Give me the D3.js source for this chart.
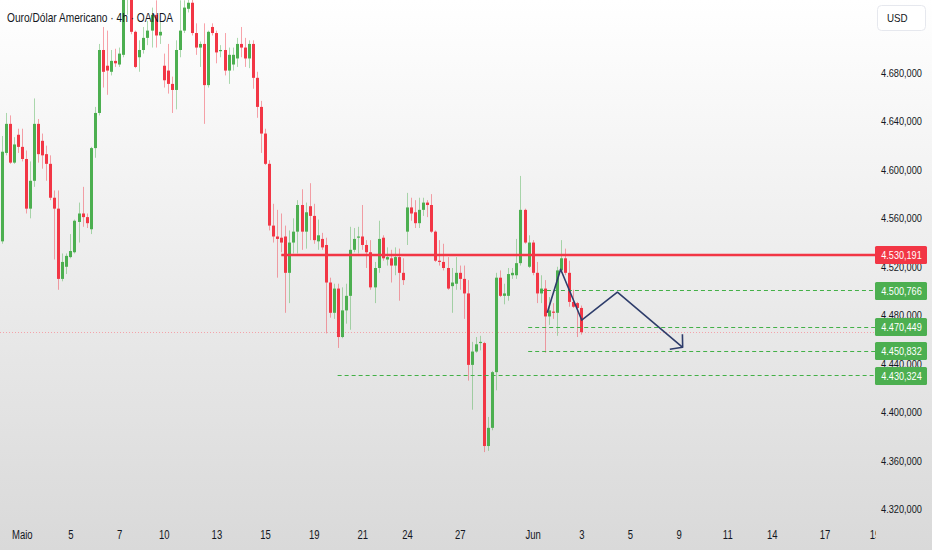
<!DOCTYPE html>
<html>
<head>
<meta charset="utf-8">
<script src="https://cdn.jsdelivr.net/npm/d3@7"></script>
<style>
  body { margin: 0; background: #fff; }
  svg text { font-family: "Liberation Sans", Arial, sans-serif; fill: #131722; }
</style>
</head>
<body>
<div id="chart"></div>
<script>
// candles, 4h (index 0 = first visible candle)
var opens = [4541,4614,4638,4606,4629,4619,4609,4568,4591,4638,
  4624,4613,4605,4577,4568,4510,4520,4528,4532,4557,
  4564,4561,4551,4618,4647,4699,4686,4681,4690,4687,
  4695,4742,4748,4714,4693,4699,4709,4715,4728,4711,
  4686,4682,4671,4666,4699,4715,4733,4738,4713,4701,
  4704,4670,4718,4713,4698,4699,4682,4687,4692,4704,
  4701,4692,4704,4676,4652,4630,4605,4554,4545,4544,
  4545,4515,4540,4549,4571,4549,4570,4562,4541,4543,
  4538,4507,4482,4502,4462,4484,4496,4534,4544,4545,
  4538,4532,4503,4519,4544,4526,4527,4521,4528,4515,
  4549,4569,4565,4556,4567,4573,4571,4549,4525,4524,
  4519,4504,4506,4515,4510,4498,4439,4450,4457,4457,
  4372,4387,4433,4511,4496,4496,4513,4513,4523,4567,
  4520,4540,4515,4498,4502,4479,4483,4482,4517,4527,
  4515,4491,4490,4486];
var closes = [4615,4638,4606,4621,4619,4609,4568,4591,4638,4613,
  4612,4605,4577,4568,4510,4524,4529,4533,4558,4564,
  4561,4556,4618,4647,4699,4681,4682,4690,4688,4696,
  4744,4750,4714,4685,4699,4709,4715,4728,4711,4714,
  4674,4671,4666,4699,4715,4734,4738,4713,4701,4704,
  4670,4714,4713,4697,4699,4682,4695,4695,4704,4701,
  4692,4704,4676,4652,4630,4605,4554,4545,4543,4540,
  4515,4540,4549,4571,4549,4565,4562,4542,4546,4536,
  4507,4482,4502,4462,4484,4496,4534,4543,4545,4538,
  4532,4503,4519,4543,4527,4528,4521,4528,4515,4509,
  4569,4564,4556,4567,4573,4571,4549,4525,4524,4519,
  4502,4507,4515,4510,4498,4439,4450,4456,4458,4372,
  4387,4433,4511,4496,4498,4514,4515,4523,4567,4540,
  4540,4515,4498,4502,4479,4484,4482,4517,4527,4515,
  4491,4487,4486,4466];
var highs = [4628,4647,4645,4627,4634,4634,4616,4607,4659,4642,
  4630,4620,4612,4583,4583,4531,4531,4547,4559,4573,
  4586,4564,4619,4652,4704,4718,4715,4699,4700,4701,
  4748,4756,4756,4715,4707,4718,4723,4734,4740,4723,
  4696,4704,4677,4707,4740,4740,4744,4744,4721,4706,
  4721,4715,4721,4715,4703,4713,4701,4701,4709,4718,
  4709,4707,4707,4681,4657,4634,4608,4572,4567,4564,
  4554,4550,4560,4575,4584,4573,4589,4572,4559,4548,
  4544,4511,4506,4506,4503,4506,4553,4552,4553,4571,
  4542,4542,4524,4558,4546,4536,4534,4536,4535,4527,
  4581,4577,4575,4577,4577,4575,4580,4550,4542,4539,
  4528,4519,4528,4521,4521,4509,4458,4462,4463,4458,
  4396,4434,4515,4517,4506,4519,4519,4543,4595,4568,
  4546,4542,4524,4513,4509,4495,4490,4520,4542,4535,
  4525,4501,4491,4488];
var lows = [4539,4612,4605,4605,4614,4607,4564,4560,4586,4606,
  4601,4591,4575,4526,4501,4508,4514,4527,4531,4540,
  4553,4552,4547,4610,4645,4668,4662,4678,4685,4685,
  4693,4728,4712,4684,4681,4696,4703,4701,4701,4704,
  4668,4663,4647,4650,4693,4713,4730,4711,4695,4685,
  4638,4668,4711,4688,4693,4678,4671,4682,4685,4693,
  4685,4684,4667,4643,4614,4604,4550,4540,4511,4532,
  4482,4490,4531,4531,4534,4535,4542,4539,4534,4534,
  4465,4478,4477,4453,4461,4473,4468,4532,4531,4534,
  4519,4501,4490,4515,4525,4521,4507,4513,4492,4505,
  4538,4558,4552,4552,4562,4561,4548,4524,4521,4517,
  4501,4482,4501,4501,4477,4426,4402,4449,4451,4367,
  4368,4385,4418,4495,4489,4492,4510,4510,4521,4539,
  4519,4513,4490,4490,4449,4472,4477,4463,4515,4513,
  4487,4486,4462,4464];

// date ticks (candle index) and their labels
var tickIdx = [5, 17, 29, 40, 53, 65, 77, 89, 100, 113, 131, 143, 155, 167, 179, 190, 203, 215.3];
var tickLabels = ["Maio", "5", "7", "10", "13", "15", "19", "21", "24", "27", "Jun", "3", "5", "9", "11", "14", "17", "19"];
var priceTicks = [4320, 4360, 4400, 4440, 4480, 4520, 4560, 4600, 4640, 4680];

// drawn levels
var resistance = 4530.191;
var resistanceFrom = 69;
var targets = [4500.766, 4470.449, 4450.832, 4430.324];
var targetsFrom = [132.8, 129.9, 129.9, 82.9];

// projected path (candle index, price)
var projIdx = [134.6, 137.9, 143.1, 151.9, 168.0];
var projPrice = [4482, 4518, 4476, 4499, 4453.5];

var svgWidth = 932;
var svgHeight = 550;
var plotRight = 875;

var green = "#4caf50";
var red = "#f23645";

var ptBR = d3.formatLocale({decimal: ",", thousands: ".", grouping: [3], currency: ["", ""]});
var fmt = ptBR.format(",.3f");

// the screenshot's font is narrow, so squeeze glyphs to the measured widths
function squeeze(sel, f) {
  sel.each(function() {
    var w = this.getComputedTextLength();
    d3.select(this).attr("textLength", w * f).attr("lengthAdjust", "spacingAndGlyphs");
  });
}

var svg = d3.select("#chart")
  .append("svg")
  .attr("width", svgWidth)
  .attr("height", svgHeight);

var defs = svg.append("defs");
var grad = defs.append("linearGradient")
  .attr("id", "bg")
  .attr("x1", 0).attr("y1", 0).attr("x2", 0).attr("y2", 1);
grad.append("stop").attr("offset", "0%").attr("stop-color", "#ffffff");
grad.append("stop").attr("offset", "100%").attr("stop-color", "#d9d9d9");

defs.append("clipPath").attr("id", "plotClip")
  .append("rect").attr("x", 0).attr("y", 0).attr("width", plotRight).attr("height", 522);

svg.append("rect")
  .attr("width", svgWidth)
  .attr("height", svgHeight)
  .attr("fill", "url(#bg)");

var n = opens.length;
var xScale = d3.scaleLinear().domain([0, n - 1]).range([1.5, 581.3]);
var yScale = d3.scaleLinear().domain([4320, 4680]).range([509, 73]);

var candles = d3.range(n).map(function(i) {
  return {i: i, o: opens[i], c: closes[i], h: highs[i], l: lows[i]};
});

var plot = svg.append("g").attr("clip-path", "url(#plotClip)");

// current price dotted line
plot.append("line")
  .attr("x1", 0)
  .attr("x2", plotRight)
  .attr("y1", Math.round(yScale(closes[n - 1])) + 0.5)
  .attr("y2", Math.round(yScale(closes[n - 1])) + 0.5)
  .attr("stroke", "#f4a3aa")
  .attr("stroke-width", 1)
  .attr("stroke-dasharray", "1,2");

// wicks
plot.selectAll(".wick")
  .data(candles)
  .enter()
  .append("line")
  .attr("class", "wick")
  .attr("x1", d => Math.round(xScale(d.i)) + 0.5)
  .attr("x2", d => Math.round(xScale(d.i)) + 0.5)
  .attr("y1", d => yScale(d.h))
  .attr("y2", d => yScale(d.l))
  .attr("stroke", d => d.c >= d.o ? green : red)
  .attr("stroke-opacity", 0.45)
  .attr("stroke-width", 1);

// bodies
plot.selectAll(".body")
  .data(candles)
  .enter()
  .append("rect")
  .attr("class", "body")
  .attr("x", d => Math.round(xScale(d.i)) - 1)
  .attr("width", 3)
  .attr("y", d => yScale(Math.max(d.o, d.c)))
  .attr("height", d => Math.max(1, Math.abs(yScale(d.o) - yScale(d.c))))
  .attr("fill", d => d.c >= d.o ? green : red);

// target levels, green dashed
plot.selectAll(".target")
  .data(targets)
  .enter()
  .append("line")
  .attr("class", "target")
  .attr("x1", (d, i) => xScale(targetsFrom[i]))
  .attr("x2", plotRight)
  .attr("y1", d => Math.round(yScale(d)) + 0.5)
  .attr("y2", d => Math.round(yScale(d)) + 0.5)
  .attr("stroke", "#43b047")
  .attr("stroke-width", 1.1)
  .attr("stroke-dasharray", "4,3");

// resistance, solid red
plot.append("line")
  .attr("x1", xScale(resistanceFrom))
  .attr("x2", plotRight)
  .attr("y1", yScale(resistance) + 0.5)
  .attr("y2", yScale(resistance) + 0.5)
  .attr("stroke", red)
  .attr("stroke-width", 2.5);

// projection path with open arrow head
var proj = projIdx.map((d, i) => [xScale(d), yScale(projPrice[i])]);
var navy = "#2e3d6b";
plot.append("path")
  .attr("d", d3.line()(proj))
  .attr("fill", "none")
  .attr("stroke", navy)
  .attr("stroke-width", 1.6)
  .attr("stroke-linejoin", "round");

var tip = proj[proj.length - 1];
var prev = proj[proj.length - 2];
var ang = Math.atan2(prev[1] - tip[1], prev[0] - tip[0]);
var headLen = 13;
var head = [
  [tip[0] + headLen * Math.cos(ang - 0.85), tip[1] + headLen * Math.sin(ang - 0.85)],
  tip,
  [tip[0] + headLen * Math.cos(ang + 0.85), tip[1] + headLen * Math.sin(ang + 0.85)]
];
plot.append("path")
  .attr("d", d3.line()(head))
  .attr("fill", "none")
  .attr("stroke", navy)
  .attr("stroke-width", 1.6)
  .attr("stroke-linejoin", "round");

// price axis
var yAxis = svg.append("g")
  .attr("transform", "translate(878,0)")
  .call(d3.axisRight(yScale).tickValues(priceTicks).tickSize(0).tickPadding(3).tickFormat(fmt));
yAxis.select(".domain").remove();
yAxis.selectAll("text")
  .style("font-size", "11px")
  .style("fill", "#131722")
  .attr("textLength", 41)
  .attr("lengthAdjust", "spacingAndGlyphs");

// time axis, cut at the price axis like the screenshot
var xClip = defs.append("clipPath").attr("id", "xClip");
xClip.append("rect").attr("x", 0).attr("y", 510).attr("width", 876).attr("height", 40);
var xAxis = svg.append("g")
  .attr("clip-path", "url(#xClip)")
  .append("g")
  .attr("transform", "translate(0,526)")
  .call(d3.axisBottom(xScale).tickValues(tickIdx).tickSize(0).tickPadding(4)
    .tickFormat((d, i) => tickLabels[i]));
xAxis.select(".domain").remove();
xAxis.selectAll("text")
  .style("font-size", "12.5px")
  .style("fill", "#131722")
  .call(squeeze, 0.76);

// level labels on the price axis
var labels = [{p: resistance, col: red}].concat(targets.map(d => ({p: d, col: green})));
var lab = svg.selectAll(".lvl")
  .data(labels)
  .enter()
  .append("g")
  .attr("class", "lvl")
  .attr("transform", d => "translate(875," + Math.round(yScale(d.p) - 8.5) + ")");
lab.append("rect")
  .attr("width", 52)
  .attr("height", 18)
  .attr("rx", 1.5)
  .attr("fill", d => d.col);
lab.append("text")
  .attr("x", 26.5)
  .attr("y", 13)
  .attr("text-anchor", "middle")
  .attr("textLength", 40.5)
  .attr("lengthAdjust", "spacingAndGlyphs")
  .style("font-size", "11px")
  .style("fill", "#ffffff")
  .text(d => fmt(d.p));

// currency box
svg.append("rect")
  .attr("x", 877.5)
  .attr("y", 5.5)
  .attr("width", 48)
  .attr("height", 25)
  .attr("rx", 4)
  .attr("fill", "#ffffff")
  .attr("stroke", "#e6e8ee");
svg.append("text")
  .attr("x", 887)
  .attr("y", 22)
  .style("font-size", "11.5px")
  .text("USD")
  .call(squeeze, 0.85);

// title
svg.append("text")
  .attr("x", 7)
  .attr("y", 22)
  .style("font-size", "13px")
  .attr("textLength", 166)
  .attr("lengthAdjust", "spacingAndGlyphs")
  .text("Ouro/Dólar Americano · 4h · OANDA");
</script>
</body>
</html>
